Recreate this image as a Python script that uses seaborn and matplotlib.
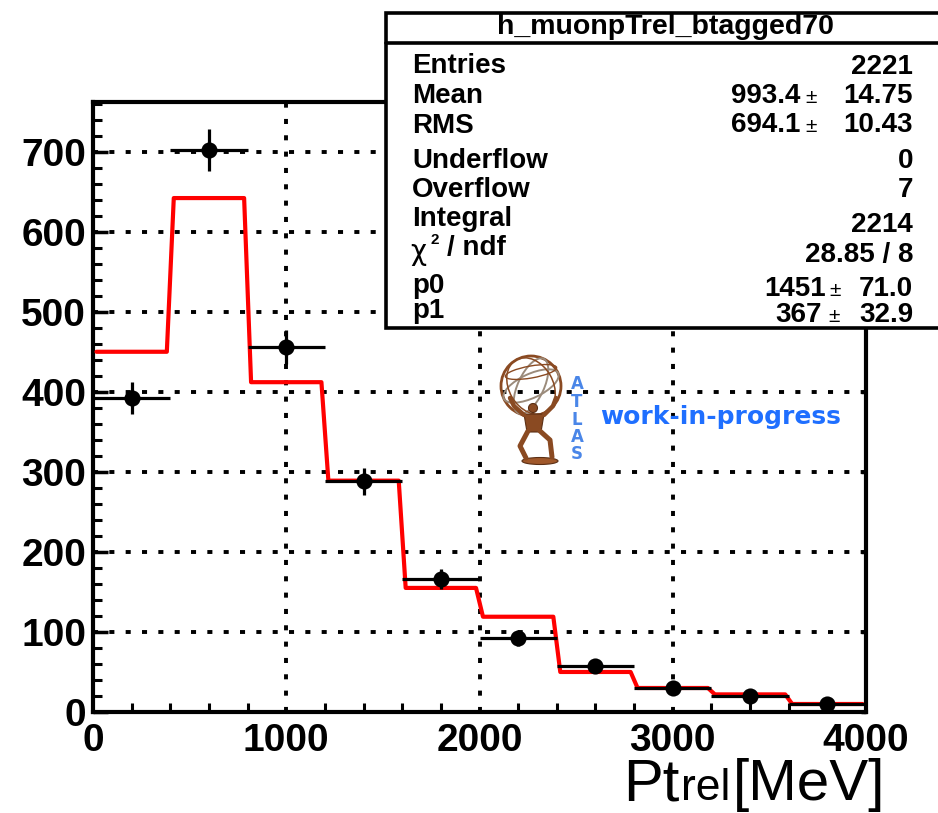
import numpy as np
import pandas as pd
import matplotlib
matplotlib.use("Agg")
import matplotlib.pyplot as plt
from matplotlib.patches import Rectangle, Ellipse, Polygon, Circle
from matplotlib.lines import Line2D
from matplotlib.ticker import MultipleLocator
import seaborn as sns

# ---- histogram content -------------------------------------------------
bin_edges = [0, 400, 800, 1200, 1600, 2000, 2400, 2800, 3200, 3600, 4000]
bin_centers = [200, 600, 1000, 1400, 1800, 2200, 2600, 3000, 3400, 3800]
counts = [392, 702, 456, 288, 166, 92, 58, 30, 20, 10]
fit_values = [450, 642, 412, 289, 155, 119, 50, 30, 22, 10]

x_ticks = [0, 1000, 2000, 3000, 4000]
y_ticks = [0, 100, 200, 300, 400, 500, 600, 700]

# ---- statistics box ----------------------------------------------------
stats_title = "h_muonpTrel_btagged70"
stats_labels = ["Entries", "Mean", "RMS", "Underflow", "Overflow", "Integral", "p0", "p1"]
stats_main = ["2221", "993.4", "694.1", "0", "7", "2214", "1451", "367"]
stats_err = [None, "14.75", "10.43", None, None, None, "71.0", "32.9"]
chi2_text = "28.85 / 8"

W, H = 938, 813


def fx(px):
    return px / W


def fy(py):
    return 1 - py / H


sns.set_theme(style="white")
plt.rcParams["font.family"] = ["Liberation Sans", "DejaVu Sans"]
plt.rcParams["axes.unicode_minus"] = False
plt.rcParams["text.color"] = "black"
plt.rcParams["xtick.color"] = "black"
plt.rcParams["ytick.color"] = "black"
plt.rcParams["axes.edgecolor"] = "black"

fig = plt.figure(figsize=(W / 100, H / 100), dpi=100)
ax = fig.add_axes([fx(93), fy(712), (866 - 93) / W, (712 - 102) / H])
ax.set_facecolor("white")

df = pd.DataFrame({
    "pt": bin_centers,
    "entries": counts,
    "err": np.sqrt(counts),
})

# fitted template drawn as a step curve with short slanted edges
d = 18
fx_pts, fy_pts = [], []
for i, v in enumerate(fit_values):
    lo, hi = bin_edges[i], bin_edges[i + 1]
    fx_pts += [lo + d, hi - d]
    fy_pts += [v, v]
fit_df = pd.DataFrame({"pt": fx_pts, "fit": fy_pts})
sns.lineplot(data=fit_df, x="pt", y="fit", sort=False, estimator=None,
             color="#ff0000", lw=3.0, ax=ax, zorder=3)

# data points with bin-width and Poisson error bars
half_width = [(bin_edges[i + 1] - bin_edges[i]) / 2 for i in range(len(counts))]
ax.errorbar(df["pt"], df["entries"], xerr=half_width, yerr=df["err"],
            fmt="none", ecolor="black", elinewidth=2.3, capsize=0, zorder=4)
sns.scatterplot(data=df, x="pt", y="entries", color="black", s=135,
                edgecolor="black", linewidth=0, ax=ax, zorder=5, legend=False)

ax.set_xlim(0, 4000)
ax.set_ylim(0, 762)
ax.set_xlabel("")
ax.set_ylabel("")
ax.set_xticks(x_ticks)
ax.set_yticks(y_ticks)
ax.xaxis.set_minor_locator(MultipleLocator(200))
ax.yaxis.set_minor_locator(MultipleLocator(20))
ax.grid(which="major", color="black", linestyle=(0, (1.3, 2.9)), linewidth=2.8)
ax.set_axisbelow(True)
ax.tick_params(which="major", direction="in", length=11, width=2.5,
               labelsize=28, top=False, right=False, colors="black")
ax.tick_params(which="minor", direction="in", length=6.5, width=2.2,
               top=False, right=False, bottom=True, left=True, colors="black")
ax.tick_params(axis="x", pad=8)
ax.tick_params(axis="y", pad=5)
for lab in ax.get_xticklabels() + ax.get_yticklabels():
    lab.set_fontweight("bold")
    lab.set_color("black")
for sp in ax.spines.values():
    sp.set_linewidth(3)
    sp.set_color("black")

# short ticks on the right-hand frame
ax_r = ax.twinx()
ax_r.set_ylim(ax.get_ylim())
ax_r.set_yticks(y_ticks)
ax_r.tick_params(direction="in", length=3.5, width=2.5, labelright=False,
                 right=True, left=False, colors="black")
ax_r.grid(False)
for sp in ax_r.spines.values():
    sp.set_visible(False)

# ---- axis title with subscript -----------------------------------------
fig.canvas.draw()
renderer = fig.canvas.get_renderer()
t3 = fig.text(fx(885), fy(800), "[MeV]", ha="right", va="baseline", fontsize=42)
w3 = t3.get_window_extent(renderer).width
t2 = fig.text(fx(885 - w3 - 2), fy(800), "rel", ha="right", va="baseline", fontsize=32)
w2 = t2.get_window_extent(renderer).width
fig.text(fx(885 - w3 - w2 - 4), fy(800), "Pt", ha="right", va="baseline", fontsize=43)

# ---- statistics box ----------------------------------------------------
box_l, box_r, box_t, box_b = 386, 944, 13, 328
fig.add_artist(Rectangle((fx(box_l), fy(box_b)), (box_r - box_l) / W, (box_b - box_t) / H,
                         transform=fig.transFigure, facecolor="white",
                         edgecolor="black", lw=2.6, zorder=10))
fig.add_artist(Line2D([fx(box_l), fx(box_r)], [fy(43), fy(43)],
                      transform=fig.transFigure, color="black", lw=2.6, zorder=11))
fig.text(fx(665), fy(34), stats_title, ha="center", va="baseline",
         fontsize=20.5, fontweight="bold", zorder=12)

label_base = [73, 103, 133, 168, 197, 226, 293, 318]
value_base = [74, 103, 132, 168, 197, 232, 296, 322]
main_right = [913, 800, 800, 913, 913, 913, 826, 822]
pm_center = [None, 811, 811, None, None, None, 835, 834]
for i, lab in enumerate(stats_labels):
    fig.text(fx(412), fy(label_base[i]), lab, ha="left", va="baseline",
             fontsize=20, fontweight="bold", zorder=12)
    fig.text(fx(main_right[i]), fy(value_base[i]), stats_main[i], ha="right",
             va="baseline", fontsize=20, fontweight="bold", zorder=12)
    if stats_err[i] is not None:
        fig.text(fx(pm_center[i]), fy(value_base[i]), "\u00b1", ha="center",
                 va="baseline", fontsize=15, zorder=12)
        fig.text(fx(913), fy(value_base[i]), stats_err[i], ha="right",
                 va="baseline", fontsize=20, fontweight="bold", zorder=12)

# chi-square row
fig.text(fx(410), fy(260), "\u03c7", ha="left", va="baseline", fontsize=20,
         family=["DejaVu Sans"], zorder=12)
fig.text(fx(430), fy(244), "2", ha="left", va="baseline", fontsize=11,
         fontweight="bold", zorder=12)
fig.text(fx(447), fy(255), "/ ndf", ha="left", va="baseline", fontsize=20,
         fontweight="bold", zorder=12)
fig.text(fx(913), fy(262), chi2_text, ha="right", va="baseline", fontsize=20,
         fontweight="bold", zorder=12)

# ---- experiment logo ---------------------------------------------------
lx0, lx1, ly0, ly1 = 496, 592, 352, 470
lax = fig.add_axes([fx(lx0), fy(ly1), (lx1 - lx0) / W, (ly1 - ly0) / H])
lax.set_xlim(lx0, lx1)
lax.set_ylim(ly1, ly0)
lax.axis("off")
lax.patch.set_alpha(0)

brown = "#8a4a22"
dark = "#5b2f14"
grey = "#9b8b7b"
gc = (531, 386)
lax.add_patch(Circle(gc, 30, fill=False, edgecolor=brown, lw=2.0))
lax.add_patch(Ellipse(gc, 26, 60, angle=25, fill=False, edgecolor=grey, lw=1.4))
lax.add_patch(Ellipse(gc, 60, 24, angle=-25, fill=False, edgecolor=grey, lw=1.4))
lax.add_patch(Ellipse(gc, 44, 60, angle=-30, fill=False, edgecolor=brown, lw=1.1))
lax.add_patch(Ellipse((531, 372), 52, 12, angle=-10, fill=False, edgecolor=brown, lw=1.0))
# kneeling figure
lax.add_patch(Polygon([(524, 414), (544, 414), (541, 432), (527, 432)],
                      closed=True, facecolor=brown, edgecolor=dark, lw=0.8))
lax.add_patch(Circle((533, 408), 4.5, facecolor=brown, edgecolor=dark, lw=0.8))
lax.plot([524, 514, 510], [415, 406, 398], color=brown, lw=3.2, solid_capstyle="round")
lax.plot([544, 553, 556], [415, 406, 398], color=brown, lw=3.2, solid_capstyle="round")
lax.plot([528, 520, 526], [431, 446, 458], color=brown, lw=3.6, solid_capstyle="round")
lax.plot([540, 550, 552], [431, 440, 457], color=brown, lw=3.6, solid_capstyle="round")
lax.add_patch(Ellipse((540, 461), 36, 7, facecolor="#a0582a", edgecolor=dark, lw=0.8))

atlas_letters = ["A", "T", "L", "A", "S"]
letter_y = [384, 402, 420, 437, 454]
for ch, yy in zip(atlas_letters, letter_y):
    lax.text(577, yy, ch, ha="center", va="center", fontsize=12,
             color="#4a86e8", family=["DejaVu Sans"], fontweight="bold")

fig.text(fx(600), fy(417), "work-in-progress", ha="left", va="center",
         fontsize=18, fontweight="bold", color="#1f6fff", family=["DejaVu Sans"])

fig.savefig("out.png", dpi=100, facecolor="white")
